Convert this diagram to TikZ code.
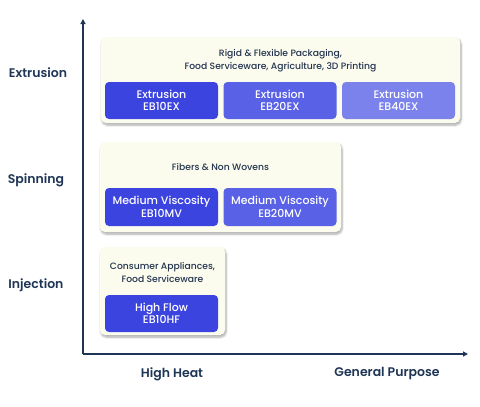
\documentclass[tikz,border=0pt]{standalone}
\usepackage{fontspec}
\setmainfont{Poppins}
\newfontfamily\medfont{Poppins Medium}
\newfontfamily\semifont{Poppins SemiBold}
\usetikzlibrary{arrows.meta,shadows.blur}
\definecolor{navy}{HTML}{1F3556}
\definecolor{cream}{HTML}{FBFBEE}
\definecolor{bA}{HTML}{3C44DF}
\definecolor{bB}{HTML}{5961E6}
\definecolor{bC}{HTML}{7C82EC}
\definecolor{ptext}{HTML}{24344F}
\tikzset{
  panel/.style={fill=cream, draw=none, rounded corners=5pt, blur shadow={shadow xshift=1pt, shadow yshift=-2pt, shadow blur steps=6, shadow opacity=35}},
  grade/.style={draw=none, rounded corners=4pt, text=white, align=center, font=\medfont\fontsize{11}{12.5}\selectfont, inner sep=0pt},
  ptxt/.style={text=ptext, align=center, font=\medfont\fontsize{9.2}{13}\selectfont},
  axlab/.style={text=navy, font=\semifont\fontsize{12.5}{14}\selectfont},
  axis/.style={draw=navy, line width=1.4pt, -{Triangle[length=5pt,width=5pt]}}
}
\begin{document}
\begin{tikzpicture}[x=1pt,y=-1pt]
\useasboundingbox (0,0) rectangle (480,407);
% panels
\path[panel] (101,37) rectangle (460,123);
\path[panel] (100,142) rectangle (341,232);
\path[panel] (100,247) rectangle (225,335);
% panel texts
\node[ptxt] (t1) at (280.5,60.5) {Rigid \& Flexible Packaging,\\Food Serviceware, Agriculture, 3D Printing};
\node[ptxt] (t2) at (220.5,167) {Fibers \& Non Wovens};
\node[ptxt] (t3) at (162.5,272.5) {Consumer Appliances,\\Food Serviceware};
% grade boxes
\node[grade, fill=bA, minimum width=113pt, minimum height=37pt] (ex1) at (161.5,100.5) {Extrusion\\EB10EX};
\node[grade, fill=bB, minimum width=113pt, minimum height=37pt] (ex2) at (280,100.5) {Extrusion\\EB20EX};
\node[grade, fill=bC, minimum width=113pt, minimum height=37pt] (ex3) at (398.5,100.5) {Extrusion\\EB40EX};
\node[grade, fill=bA, minimum width=113pt, minimum height=38pt] (mv1) at (161.5,207) {Medium Viscosity\\EB10MV};
\node[grade, fill=bB, minimum width=113pt, minimum height=38pt] (mv2) at (280,207) {Medium Viscosity\\EB20MV};
\node[grade, fill=bA, minimum width=113pt, minimum height=37pt] (hf1) at (161.5,313.5) {High Flow\\EB10HF};
% axes
\coordinate (o) at (83,354);
\coordinate (ytop) at (83,19);
\coordinate (xend) at (468,354);
\draw[axis] (o) -- (ytop);
\draw[axis] (o) -- (xend);
% axis labels
\node[axlab] (ly1) at (38,73) {Extrusion};
\node[axlab] (ly2) at (36,180) {Spinning};
\node[axlab] (ly3) at (36,285) {Injection};
\node[axlab] (lx1) at (172,374) {High Heat};
\node[axlab] (lx2) at (387,374) {General Purpose};
\end{tikzpicture}
\end{document}
